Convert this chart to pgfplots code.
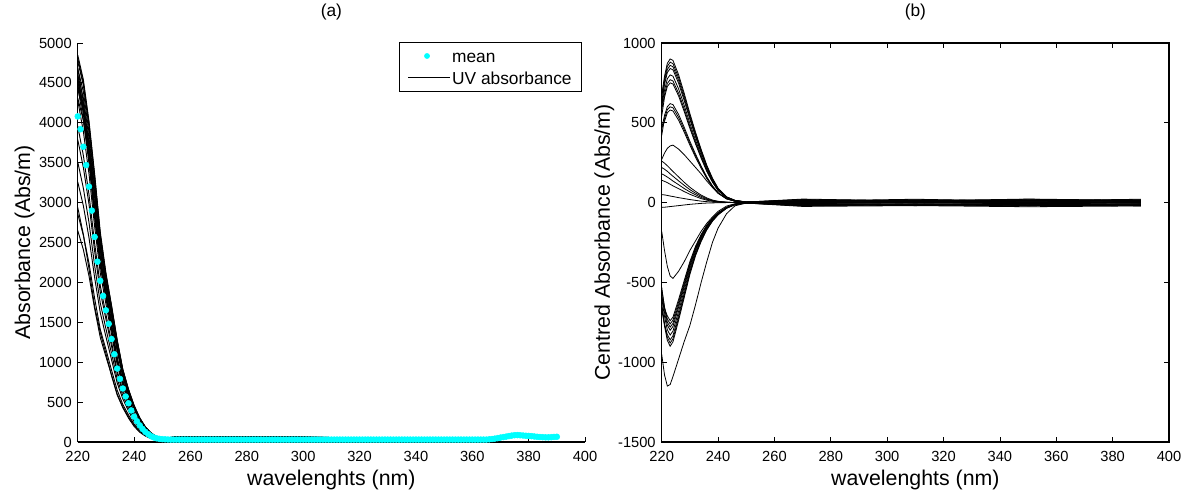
\documentclass[border=0pt]{standalone}
\usepackage{fontspec}
\setmainfont{Liberation Sans}
\usepackage{pgfplots}
\pgfplotsset{compat=1.18}
\definecolor{mcyan}{RGB}{0,255,255}

\pgfplotsset{
  spec/.style={
    scale only axis, width=380.5pt, height=299.25pt,
    xmin=220, xmax=400, xtick={220,240,...,400},
    clip=false,
    major tick length=3.75pt,
    axis line style={line width=0.8pt},
    every tick/.style={black, line width=0.6pt},
    tick label style={font=\fontsize{11}{13}\selectfont},
    /pgf/number format/assume math mode=true,
    /pgf/number format/1000 sep={},
    scaled ticks=false,
    xticklabel style={yshift=-3.5pt},
    yticklabel style={xshift=-1pt},
    label style={font=\fontsize{16}{19}\selectfont},
    xlabel={wavelenghts (nm)},
    xlabel style={at={(axis description cs:0.5,0)}, anchor=base, yshift=-32.8pt},
  },
  uv/.style={black, line width=0.7pt, mark=none},
  cuv/.style={black, line width=0.6pt, mark=none},
}
\tikzset{ttl/.style={font=\fontsize{13}{15}\selectfont, anchor=base, yshift=19.5pt}}

\begin{document}
\begin{tikzpicture}
\path[use as bounding box] (-58.3pt,-37.5pt) rectangle (833.5pt,331.5pt);

% (a) raw spectra
\begin{axis}[spec, at={(0,0)}, anchor=south west,
  ymin=0, ymax=5000, ytick={0,500,...,5000},
  axis x line*=bottom, axis y line*=left, tick align=inside,
  ylabel={Absorbance (Abs/m)},
  ylabel style={at={(axis description cs:-0.094,0.5)}, anchor=base},
  legend cell align=left,
  legend style={at={(axis description cs:1,1)}, anchor=north east, xshift=-2.25pt, yshift=0.75pt,
    draw=black, line width=0.6pt, fill=white, font=\fontsize{13}{15}\selectfont,
    inner xsep=6pt, inner ysep=3pt, row sep=2pt,
    nodes={inner xsep=1.5pt, inner ysep=2.5pt, text height=9.4pt, text depth=0pt}},
]
\addlegendimage{draw=none, legend image code/.code={\path[draw=none, fill=none] (0.1cm,0cm) -- (1.2cm,0cm); \fill[mcyan] (0.6cm,0cm) circle (2.2pt);}}
\addlegendentry{mean}
\addlegendimage{legend image code/.code={\draw[black, line width=0.55pt] (0.1cm,0cm) -- (1.2cm,0cm);}}
\addlegendentry{UV absorbance}

\addplot[uv] coordinates {(220,4850) (222,4540) (224,4020) (226,3360) (228,2630) (230,2120) (232,1710) (234,1280) (236,910) (238,660) (240,460) (242,300) (244,190) (246,114) (248,66) (250,43) (255,66) (300,61) (330,46) (360,46) (365,51) (370,66) (375,91) (380,91) (385,76) (390,81)};
\addplot[uv] coordinates {(220,4810) (222,4500) (224,3990) (226,3330) (228,2600) (230,2100) (232,1700) (234,1270) (236,905) (238,660) (240,455) (242,300) (244,187) (246,113) (248,66) (250,43) (255,65) (300,60) (330,45) (360,45) (365,50) (370,65) (375,90) (380,90) (385,75) (390,80)};
\addplot[uv] coordinates {(220,4770) (222,4470) (224,3950) (226,3300) (228,2580) (230,2080) (232,1680) (234,1260) (236,900) (238,650) (240,450) (242,300) (244,186) (246,112) (248,65) (250,42) (255,65) (300,60) (330,45) (360,45) (365,50) (370,65) (375,90) (380,90) (385,75) (390,80)};
\addplot[uv] coordinates {(220,4680) (222,4390) (224,3880) (226,3240) (228,2540) (230,2050) (232,1650) (234,1230) (236,880) (238,640) (240,444) (242,292) (244,183) (246,110) (248,64) (250,41) (255,64) (300,59) (330,44) (360,44) (365,49) (370,64) (375,89) (380,89) (385,74) (390,79)};
\addplot[uv] coordinates {(220,4600) (222,4310) (224,3810) (226,3190) (228,2490) (230,2010) (232,1620) (234,1210) (236,870) (238,630) (240,436) (242,287) (244,179) (246,108) (248,63) (250,41) (255,63) (300,58) (330,43) (360,43) (365,48) (370,63) (375,88) (380,88) (385,73) (390,78)};
\addplot[uv] coordinates {(220,4520) (222,4230) (224,3750) (226,3130) (228,2450) (230,1970) (232,1600) (234,1190) (236,850) (238,620) (240,428) (242,282) (244,176) (246,106) (248,62) (250,40) (255,62) (300,57) (330,42) (360,42) (365,47) (370,62) (375,87) (380,87) (385,72) (390,77)};
\addplot[uv] coordinates {(220,4610) (222,4180) (224,3610) (226,2900) (228,2280) (230,1870) (232,1460) (234,1040) (236,760) (238,550) (240,360) (242,235) (244,142) (246,82) (248,51) (250,34) (255,65) (300,60) (330,45) (360,45) (365,50) (370,65) (375,90) (380,90) (385,75) (390,80)};
\addplot[uv] coordinates {(220,4570) (222,4150) (224,3580) (226,2880) (228,2260) (230,1850) (232,1440) (234,1030) (236,750) (238,544) (240,356) (242,233) (244,141) (246,82) (248,50) (250,34) (255,64) (300,59) (330,44) (360,44) (365,49) (370,64) (375,89) (380,89) (385,74) (390,79)};
\addplot[uv] coordinates {(220,4450) (222,4030) (224,3490) (226,2800) (228,2200) (230,1800) (232,1400) (234,1000) (236,730) (238,530) (240,347) (242,227) (244,137) (246,80) (248,49) (250,33) (255,63) (300,58) (330,43) (360,43) (365,48) (370,63) (375,88) (380,88) (385,73) (390,78)};
\addplot[uv] coordinates {(220,4470) (222,4190) (224,3710) (226,3100) (228,2420) (230,1960) (232,1580) (234,1180) (236,840) (238,610) (240,424) (242,279) (244,174) (246,105) (248,61) (250,40) (255,62) (300,57) (330,42) (360,42) (365,47) (370,62) (375,87) (380,87) (385,72) (390,77)};
\addplot[uv] coordinates {(220,4430) (222,4150) (224,3680) (226,3070) (228,2400) (230,1940) (232,1570) (234,1170) (236,830) (238,605) (240,420) (242,277) (244,173) (246,104) (248,60) (250,39) (255,61) (300,56) (330,41) (360,41) (365,46) (370,61) (375,86) (380,86) (385,71) (390,76)};
\addplot[uv] coordinates {(220,4280) (222,3890) (224,3360) (226,2700) (228,2120) (230,1730) (232,1350) (234,970) (236,700) (238,510) (240,334) (242,218) (244,132) (246,77) (248,47) (250,32) (255,61) (300,56) (330,41) (360,41) (365,46) (370,61) (375,86) (380,86) (385,71) (390,76)};
\addplot[uv] coordinates {(220,4690) (222,4260) (224,3680) (226,2960) (228,2320) (230,1900) (232,1480) (234,1060) (236,770) (238,560) (240,366) (242,239) (244,145) (246,84) (248,52) (250,35) (255,66) (300,61) (330,46) (360,46) (365,51) (370,66) (375,91) (380,91) (385,76) (390,81)};
\addplot[uv] coordinates {(220,4310) (222,4030) (224,3570) (226,2980) (228,2330) (230,1880) (232,1520) (234,1140) (236,810) (238,590) (240,408) (242,269) (244,168) (246,101) (248,59) (250,38) (255,61) (300,56) (330,41) (360,41) (365,46) (370,61) (375,86) (380,86) (385,71) (390,76)};
\addplot[uv] coordinates {(220,4530) (222,4110) (224,3550) (226,2850) (228,2240) (230,1830) (232,1430) (234,1020) (236,740) (238,540) (240,353) (242,231) (244,140) (246,81) (248,50) (250,33) (255,64) (300,59) (330,44) (360,44) (365,49) (370,64) (375,89) (380,89) (385,74) (390,79)};
\addplot[uv] coordinates {(220,3960) (222,3590) (224,3100) (226,2490) (228,1960) (230,1600) (232,1250) (234,890) (236,650) (238,470) (240,308) (242,202) (244,122) (246,71) (248,44) (250,29) (255,58) (300,53) (330,38) (360,38) (365,43) (370,58) (375,83) (380,83) (385,68) (390,73)};
\addplot[uv] coordinates {(220,3790) (222,3440) (224,2980) (226,2390) (228,1880) (230,1540) (232,1200) (234,860) (236,620) (238,450) (240,296) (242,193) (244,117) (246,68) (248,42) (250,28) (255,57) (300,52) (330,37) (360,37) (365,42) (370,57) (375,82) (380,82) (385,67) (390,72)};
\addplot[uv] coordinates {(220,3510) (222,3180) (224,2750) (226,2210) (228,1740) (230,1420) (232,1110) (234,790) (236,580) (238,420) (240,273) (242,179) (244,108) (246,63) (248,39) (250,26) (255,54) (300,49) (330,34) (360,34) (365,39) (370,54) (375,79) (380,79) (385,64) (390,69)};
\addplot[uv] coordinates {(220,3260) (222,2960) (224,2560) (226,2060) (228,1620) (230,1320) (232,1030) (234,740) (236,540) (238,390) (240,254) (242,166) (244,101) (246,58) (248,36) (250,24) (255,52) (300,47) (330,32) (360,32) (365,37) (370,52) (375,77) (380,77) (385,62) (390,67)};
\addplot[uv] coordinates {(220,2940) (222,2600) (224,2170) (226,1700) (228,1370) (230,1110) (232,830) (234,590) (236,430) (238,300) (240,196) (242,122) (244,74) (246,43) (248,28) (250,20) (255,50) (300,45) (330,30) (360,30) (365,35) (370,50) (375,75) (380,75) (385,60) (390,65)};
\addplot[uv] coordinates {(220,2860) (222,2590) (224,2240) (226,1800) (228,1410) (230,1160) (232,900) (234,650) (236,470) (238,340) (240,223) (242,146) (244,88) (246,51) (248,32) (250,21) (255,48) (300,43) (330,28) (360,28) (365,33) (370,48) (375,73) (380,73) (385,58) (390,63)};
\addplot[uv] coordinates {(220,2650) (222,2410) (224,2080) (226,1670) (228,1310) (230,1070) (232,840) (234,600) (236,440) (238,316) (240,207) (242,135) (244,82) (246,47) (248,29) (250,20) (255,46) (300,41) (330,26) (360,26) (365,31) (370,46) (375,71) (380,71) (385,56) (390,61)};

% mean spectrum
\addplot[only marks, mark=*, mark size=2.2pt, mark options={draw=mcyan, fill=mcyan}] coordinates {
(220,4080) (221,3920) (222,3700) (223,3470) (224,3200) (225,2900) (226,2570) (227,2260) (228,2020) (229,1830)
(230,1650) (231,1480) (232,1290) (233,1100) (234,920) (235,790) (236,670) (237,570) (238,485) (239,395)
(240,318) (241,260) (242,208) (243,163) (244,126) (245,98) (246,73) (247,57) (248,46) (249,39)
(250,35) (251,33) (252,31) (253,30) (254,30) (255,30) (256,30) (257,30) (258,30) (259,30)
(260,30) (261,30) (262,30) (263,30) (264,30) (265,30) (266,30) (267,30) (268,30) (269,30)
(270,30) (271,30) (272,30) (273,30) (274,30) (275,30) (276,30) (277,30) (278,30) (279,30)
(280,30) (281,30) (282,30) (283,30) (284,30) (285,30) (286,30) (287,30) (288,30) (289,30)
(290,30) (291,30) (292,30) (293,30) (294,30) (295,30) (296,30) (297,30) (298,30) (299,30)
(300,30) (301,30) (302,30) (303,30) (304,30) (305,30) (306,30) (307,30) (308,30) (309,30)
(310,30) (311,30) (312,30) (313,30) (314,30) (315,30) (316,30) (317,30) (318,30) (319,30)
(320,30) (321,30) (322,30) (323,30) (324,30) (325,30) (326,30) (327,30) (328,30) (329,30)
(330,30) (331,30) (332,30) (333,30) (334,30) (335,30) (336,30) (337,30) (338,30) (339,30)
(340,30) (341,30) (342,30) (343,30) (344,30) (345,30) (346,30) (347,30) (348,30) (349,30)
(350,30) (351,30) (352,30) (353,30) (354,30) (355,30) (356,30) (357,30) (358,30) (359,30)
(360,30) (361,30) (362,30) (363,30) (364,30) (365,30) (366,33) (367,37) (368,42) (369,48)
(370,55) (371,61) (372,67) (373,74) (374,80) (375,85) (376,86) (377,84) (378,81) (379,78)
(380,76) (381,73) (382,69) (383,65) (384,62) (385,60) (386,58) (387,58) (388,60) (389,63)
(390,65)};

\node[ttl] at (rel axis cs:0.5,1) {(a)};
\end{axis}

% (b) centred spectra
\begin{axis}[spec, at={(438pt,0)}, anchor=south west,
  ymin=-1500, ymax=1000, ytick={-1500,-1000,...,1000},
  tick align=inside,
  ylabel={Centred Absorbance (Abs/m)},
  ylabel style={at={(axis description cs:-0.102,0.5)}, anchor=base},
]
\addplot[cuv] coordinates {(220,675) (221,792) (222,873) (223,900) (224,891) (226,801) (228,684) (230,558) (232,441) (234,333) (236,234) (238,153) (240,90) (243,36) (246,14) (250,4) (270,19) (310,11) (350,22) (390,14)};
\addplot[cuv] coordinates {(220,660) (221,774) (222,854) (223,880) (224,871) (226,783) (228,669) (230,546) (232,431) (234,326) (236,229) (238,150) (240,88) (243,35) (246,13) (250,4) (270,10) (310,21) (350,8) (390,16)};
\addplot[cuv] coordinates {(220,602) (221,757) (222,834) (223,860) (224,851) (226,765) (228,654) (230,533) (232,421) (234,318) (236,224) (238,146) (240,86) (243,34) (246,13) (250,3) (270,22) (310,10) (350,18) (390,8)};
\addplot[cuv] coordinates {(220,630) (221,739) (222,815) (223,840) (224,832) (226,748) (228,638) (230,521) (232,412) (234,311) (236,218) (238,143) (240,84) (243,34) (246,13) (250,3) (270,8) (310,16) (350,11) (390,21)};
\addplot[cuv] coordinates {(220,600) (221,704) (222,776) (223,800) (224,792) (226,712) (228,608) (230,496) (232,392) (234,296) (236,208) (238,136) (240,80) (243,32) (246,12) (250,3) (270,14) (310,6) (350,16) (390,6)};
\addplot[cuv] coordinates {(220,578) (221,678) (222,747) (223,770) (224,762) (226,685) (228,585) (230,477) (232,377) (234,285) (236,200) (238,131) (240,77) (243,31) (246,12) (250,3) (270,6) (310,18) (350,10) (390,18)};
\addplot[cuv] coordinates {(220,540) (221,660) (222,728) (223,750) (224,743) (226,668) (228,570) (230,465) (232,368) (234,278) (236,195) (238,128) (240,75) (243,30) (246,11) (250,3) (270,18) (310,8) (350,21) (390,11)};
\addplot[cuv] coordinates {(220,465) (221,546) (222,601) (223,620) (224,614) (226,552) (228,471) (230,384) (232,304) (234,229) (236,161) (238,105) (240,62) (243,25) (246,9) (250,2) (270,5) (310,13) (350,5) (390,10)};
\addplot[cuv] coordinates {(220,420) (221,528) (222,582) (223,600) (224,594) (226,534) (228,456) (230,372) (232,294) (234,222) (236,156) (238,102) (240,60) (243,24) (246,9) (250,2) (270,11) (310,5) (350,13) (390,6)};
\addplot[cuv] coordinates {(220,464) (221,510) (222,563) (223,580) (224,574) (226,516) (228,441) (230,360) (232,284) (234,215) (236,151) (238,99) (240,58) (243,23) (246,9) (250,2) (270,13) (310,6) (350,10) (390,14)};
\addplot[cuv] coordinates {(220,270) (221,310) (222,340) (223,355) (224,360) (226,335) (228,300) (230,260) (232,220) (234,180) (236,135) (238,95) (240,60) (243,25) (246,8) (250,2) (270,3) (310,8) (350,5) (390,10)};
\addplot[cuv] coordinates {(220,260) (221,247) (222,231) (223,213) (224,195) (226,161) (228,127) (230,96) (232,70) (234,47) (236,29) (238,16) (240,8) (243,3) (246,0) (250,0) (270,2) (310,5) (350,0) (390,3)};
\addplot[cuv] coordinates {(220,220) (221,209) (222,196) (223,180) (224,165) (226,136) (228,108) (230,81) (232,59) (234,40) (236,24) (238,13) (240,7) (243,2) (246,0) (250,0) (270,0) (310,3) (350,2) (390,-2)};
\addplot[cuv] coordinates {(220,180) (221,171) (222,160) (223,148) (224,135) (226,112) (228,88) (230,67) (232,49) (234,32) (236,20) (238,11) (240,5) (243,2) (246,0) (250,0) (270,-2) (310,2) (350,-3) (390,0)};
\addplot[cuv] coordinates {(220,140) (221,133) (222,125) (223,115) (224,105) (226,87) (228,69) (230,52) (232,38) (234,25) (236,15) (238,8) (240,4) (243,1) (246,0) (250,0) (270,3) (310,-2) (350,2) (390,-3)};
\addplot[cuv] coordinates {(220,50) (221,48) (222,45) (223,41) (224,38) (226,31) (228,25) (230,19) (232,14) (234,9) (236,6) (238,3) (240,2) (243,0) (246,0) (250,0) (270,-3) (310,0) (350,-5) (390,2)};
\addplot[cuv] coordinates {(220,-30) (221,-29) (222,-27) (223,-25) (224,-23) (226,-19) (228,-15) (230,-11) (232,-8) (234,-5) (236,-3) (238,-2) (240,-1) (243,0) (246,0) (250,0) (270,-5) (310,-3) (350,-6) (390,-2)};
\addplot[cuv] coordinates {(220,-180) (221,-300) (222,-400) (223,-460) (224,-475) (226,-430) (228,-370) (230,-300) (232,-240) (234,-180) (236,-130) (238,-90) (240,-55) (243,-22) (246,-7) (250,-2) (270,-6) (310,-2) (350,-5) (390,-8)};
\addplot[cuv] coordinates {(220,-648) (221,-774) (222,-864) (223,-900) (224,-873) (226,-738) (228,-594) (230,-450) (232,-333) (234,-243) (236,-171) (238,-117) (240,-77) (243,-36) (246,-13) (250,-3) (270,-19) (310,-13) (350,-21) (390,-14)};
\addplot[cuv] coordinates {(220,-634) (221,-757) (222,-845) (223,-880) (224,-854) (226,-722) (228,-581) (230,-440) (232,-326) (234,-238) (236,-167) (238,-114) (240,-75) (243,-35) (246,-12) (250,-3) (270,-11) (310,-19) (350,-10) (390,-18)};
\addplot[cuv] coordinates {(220,-671) (221,-766) (222,-826) (223,-860) (224,-834) (226,-705) (228,-568) (230,-430) (232,-318) (234,-232) (236,-163) (238,-112) (240,-73) (243,-34) (246,-12) (250,-3) (270,-21) (310,-10) (350,-18) (390,-13)};
\addplot[cuv] coordinates {(220,-598) (221,-714) (222,-797) (223,-830) (224,-805) (226,-681) (228,-548) (230,-415) (232,-307) (234,-224) (236,-158) (238,-108) (240,-71) (243,-33) (246,-12) (250,-2) (270,-10) (310,-16) (350,-13) (390,-21)};
\addplot[cuv] coordinates {(220,-576) (221,-688) (222,-768) (223,-800) (224,-776) (226,-656) (228,-528) (230,-400) (232,-296) (234,-216) (236,-152) (238,-104) (240,-68) (243,-32) (246,-11) (250,-2) (270,-16) (310,-18) (350,-14) (390,-10)};
\addplot[cuv] coordinates {(220,-530) (221,-660) (222,-749) (223,-780) (224,-757) (226,-640) (228,-515) (230,-390) (232,-289) (234,-211) (236,-148) (238,-101) (240,-66) (243,-31) (246,-11) (250,-2) (270,-18) (310,-8) (350,-19) (390,-13)};
\addplot[cuv] coordinates {(220,-547) (221,-654) (222,-730) (223,-760) (224,-737) (226,-623) (228,-502) (230,-380) (232,-281) (234,-205) (236,-144) (238,-99) (240,-65) (243,-30) (246,-11) (250,-2) (270,-8) (310,-14) (350,-11) (390,-18)};
\addplot[cuv] coordinates {(220,-592) (221,-666) (222,-710) (223,-740) (224,-718) (226,-607) (228,-488) (230,-370) (232,-274) (234,-200) (236,-141) (238,-96) (240,-63) (243,-30) (246,-10) (250,-2) (270,-13) (310,-11) (350,-16) (390,-8)};
\addplot[cuv] coordinates {(220,-950) (221,-1080) (222,-1150) (223,-1140) (224,-1090) (226,-980) (228,-870) (230,-770) (232,-640) (234,-500) (236,-370) (238,-250) (240,-160) (243,-70) (246,-20) (250,-3) (270,-24) (310,-19) (350,-26) (390,-21)};

\node[ttl] at (rel axis cs:0.5,1) {(b)};
\end{axis}
\end{tikzpicture}
\end{document}
